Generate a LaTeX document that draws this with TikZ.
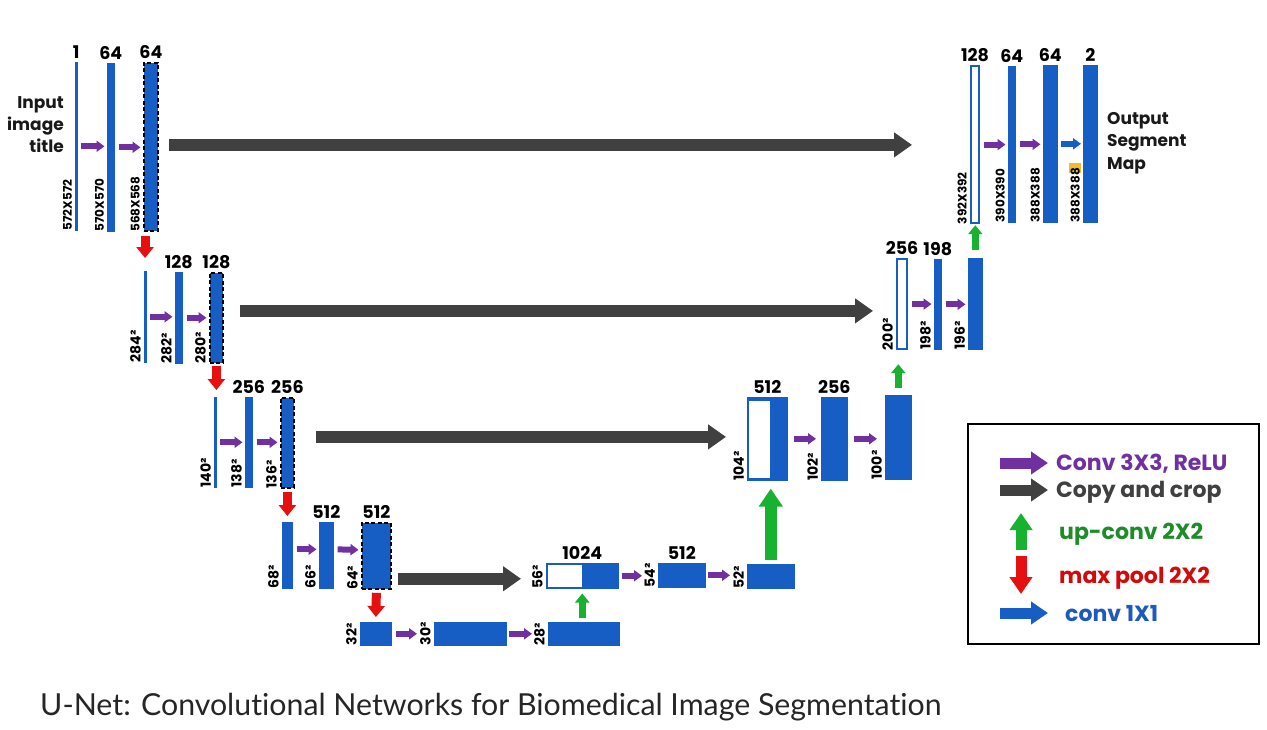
\documentclass[tikz,border=0pt]{standalone}
\usepackage{fontspec}
\setmainfont{Poppins}
\newfontfamily\capfont{Lato}[Ligatures=CommonOff]
\usetikzlibrary{arrows.meta}

\definecolor{mapblue}{RGB}{22,94,196}
\definecolor{convpurple}{RGB}{112,48,160}
\definecolor{copygray}{RGB}{64,64,64}
\definecolor{upgreen}{RGB}{24,178,48}
\definecolor{poolred}{RGB}{230,16,16}
\definecolor{keygreen}{RGB}{30,140,40}
\definecolor{keyred}{RGB}{210,10,10}
\definecolor{keyblue}{RGB}{30,90,190}
\definecolor{hlyellow}{RGB}{240,190,40}

\begin{document}
\begin{tikzpicture}[x=1pt, y=-1pt, label distance=3pt,
    fmap/.style={draw=mapblue, fill=mapblue, line width=0.6pt, inner sep=0pt, anchor=north west},
    cropmap/.style={fmap, draw=black, dash pattern=on 4pt off 2.5pt, line width=1.8pt},
    catmap/.style={fmap, fill=white, line width=2.2pt},
    num/.style={font=\bfseries\fontsize{17.5}{17.5}\selectfont, inner sep=0pt},
    dimx/.style={rotate=90, anchor=south west, inner sep=0pt, font=\bfseries\fontsize{12}{12}\selectfont},
    dimsq/.style={dimx, font=\bfseries\fontsize{14}{14}\selectfont},
    conv/.style={draw=convpurple, line width=6pt, -{Triangle[length=8pt,width=11pt]}, shorten <=4pt, shorten >=2.5pt},
    onebyone/.style={conv, draw=mapblue},
    copy/.style={draw=copygray, line width=12pt, -{Triangle[length=18pt,width=24pt]}},
    pool/.style={draw=poolred, line width=9pt, -{Triangle[length=11pt,width=17pt]}},
    upconv/.style={draw=upgreen, line width=7pt, -{Triangle[length=9pt,width=14pt]}},
    upbig/.style={draw=upgreen, line width=12pt, -{Triangle[length=18pt,width=23pt]}},
    keyarrow/.style={line width=11pt, -{Triangle[length=17pt,width=22pt]}},
    key/.style={anchor=base west, inner sep=0pt, font=\bfseries\fontsize{22}{22}\selectfont},
  ]
  \fill[white] (0,0) rectangle (1267,729);
  \useasboundingbox (0,0) rectangle (1267,729);

  % contracting path
  \node[fmap, minimum width=1.5pt, minimum height=168pt, label={[num]above:1}] (a1) at (75,62) {};
  \node[fmap, minimum width=7pt, minimum height=168pt, label={[num]above:64}] (a2) at (107,63) {};
  \node[cropmap, minimum width=14pt, minimum height=168pt, label={[num]above:64}] (a3) at (143,62) {};
  \node[fmap, minimum width=1.5pt, minimum height=91pt] (b1) at (144,271) {};
  \node[fmap, minimum width=7pt, minimum height=91pt, label={[num]above:128}] (b2) at (175,272) {};
  \node[cropmap, minimum width=13pt, minimum height=90pt, label={[num]above:128}] (b3) at (209,272) {};
  \node[fmap, minimum width=1.5pt, minimum height=90pt] (c1) at (214,397) {};
  \node[fmap, minimum width=7pt, minimum height=90pt, label={[num]above:256}] (c2) at (245,397) {};
  \node[cropmap, minimum width=13pt, minimum height=90pt, label={[num]above:256}] (c3) at (280,397) {};
  \node[fmap, minimum width=10pt, minimum height=66pt] (d1) at (282,522) {};
  \node[fmap, minimum width=14pt, minimum height=66pt, label={[num]above:512}] (d2) at (319,522) {};
  \node[cropmap, minimum width=29pt, minimum height=66pt, label={[num]above:512}] (d3) at (361,522) {};
  % bottom
  \node[fmap, minimum width=31pt, minimum height=23pt] (e1) at (360,622) {};
  \node[fmap, minimum width=72pt, minimum height=23pt] (e2) at (434,622) {};
  \node[fmap, minimum width=71pt, minimum height=23pt] (e3) at (548,622) {};
  % expansive path
  \node[catmap, line width=1.5pt, minimum width=71pt, minimum height=24pt, label={[num]above:1024}] (f1) at (546,563) {};
  \fill[mapblue] (f1.north) rectangle (f1.south east);
  \node[fmap, minimum width=47pt, minimum height=24pt, label={[num]above:512}] (f2) at (658,563) {};
  \node[fmap, minimum width=47pt, minimum height=24pt] (f3) at (747,564) {};
  \node[fmap, minimum width=40pt, minimum height=83pt, label={[num]above:512}] (g1) at (747,397) {};
  \fill[white] ([shift={(2,4)}]g1.north west) rectangle ([shift={(-18,-3)}]g1.south east);
  \node[fmap, minimum width=26pt, minimum height=83pt, label={[num]above:256}] (g2) at (821,397) {};
  \node[fmap, minimum width=26pt, minimum height=84pt] (g3) at (885,395) {};
  \node[catmap, minimum width=10pt, minimum height=90pt, label={[num]above:256}] (h1) at (896,258) {};
  \node[fmap, minimum width=7pt, minimum height=90pt, label={[num]above:198}] (h2) at (934,259) {};
  \node[fmap, minimum width=14pt, minimum height=91pt] (h3) at (968,258) {};
  \node[catmap, minimum width=8pt, minimum height=157pt, label={[num]above:128}] (k1) at (970,65) {};
  \node[fmap, minimum width=7pt, minimum height=156pt, label={[num]above:64}] (k2) at (1008,66) {};
  \node[fmap, minimum width=14pt, minimum height=157pt, label={[num]above:64}] (k3) at (1043,65) {};
  \node[fmap, minimum width=14pt, minimum height=157pt, label={[num]above:2}] (k4) at (1083,65) {};

  % sizes
  \fill[hlyellow] (1069,163) rectangle (1081,173);
  \foreach \m/\t in {a1/572X572, a2/570X570, a3/568X568, k1/392X392, k2/390X390, k3/388X388, k4/388X388}
    \node[dimx] at ([xshift=-3pt]\m.south west) {\t};
  \foreach \m/\t in {b1/284, b2/282, b3/280, c1/140, c2/138, c3/136, d1/68, d2/66, d3/64,
                     e1/32, e2/30, e3/28, f1/56, f2/54, f3/52, g1/104, g2/102, g3/100,
                     h1/200, h2/198, h3/196}
    \node[dimsq] at ([xshift=-3pt]\m.south west) {\t²};

  % conv 3x3
  \foreach \s/\t in {a1/a2, a2/a3, b1/b2, b2/b3, c1/c2, c2/c3, h1/h2, h2/h3, k1/k2, k2/k3}
    \draw[conv] (\s.east) -- (\s.east -| \t.west);
  \draw[conv] ([yshift=6pt]d1.east) -- ([yshift=6pt]d2.west);
  \draw[conv] ([yshift=6pt]d2.east) -- ([yshift=6pt]d3.west);
  \draw[conv, shorten >=17pt] (e1) -- (e2);
  \draw[conv, shorten <=2pt, shorten >=16pt] (e2) -- (e3);
  \draw[conv, shorten <=3pt, shorten >=16pt] (f1.east) -- (f1.east -| f2.west);
  \draw[conv, shorten <=2pt, shorten >=17pt] (f2.east) -- (f2.east -| f3.west);
  \draw[conv, shorten <=6pt, shorten >=5pt] (g1.east) -- (g1.east -| g2.west);
  \draw[conv, shorten <=6pt, shorten >=8pt] (g2.east) -- (g2.east -| g3.west);
  % conv 1x1
  \draw[onebyone, shorten <=3pt, shorten >=2pt] (k3.east) -- (k3.east -| k4.west);

  % copy and crop
  \draw[copy, shorten <=10pt, shorten >=58pt] ([yshift=2pt]a3.east) -- ([yshift=2pt]a3.east -| k1.west);
  \draw[copy, shorten <=16pt, shorten >=23pt] ([yshift=7pt]b3.east) -- ([yshift=7pt]b3.east -| h1.west);
  \draw[copy, shorten <=21pt, shorten >=21pt] ([yshift=6pt]c3.east) -- ([yshift=6pt]c3.east -| g1.west);
  \draw[copy, shorten <=6pt, shorten >=25pt] ([yshift=-3pt]d3.east |- f1.west) -- ([yshift=-3pt]f1.west);

  % max pool
  \draw[pool, shorten <=4pt, shorten >=13pt] (b1.north |- a3.south) -- (b1.north);
  \draw[pool, shorten <=2pt, shorten >=7pt] (b3.south) -- (b3.south |- c1.north);
  \draw[pool, shorten <=3pt, shorten >=6pt] (c3.south) -- (c3.south |- d1.north);
  \draw[pool, shorten <=3pt, shorten >=5pt] (d3.south) -- (e1.north);

  % up-conv
  \draw[upconv, shorten <=4pt, shorten >=5pt] (f1.south |- e3.north) -- (f1.south);
  \draw[upbig, shorten <=4pt, shorten >=8pt] (f3.north) -- (f3.north |- g1.south);
  \draw[upconv, shorten <=7pt, shorten >=14pt] (g3.north) -- (g3.north |- h1.south);
  \draw[upconv, shorten <=8pt, shorten >=1pt] (h3.north) -- (h3.north |- k1.south);

  % texts
  \node[anchor=north east, align=right, inner sep=0pt, text=black!90,
        font=\bfseries\fontsize{17}{22}\selectfont] (input) at (64,96) {Input\\image\\title};
  \node[anchor=north west, align=left, inner sep=0pt, text=black!90,
        font=\bfseries\fontsize{17}{22.5}\selectfont] (output) at (1107,112) {Output\\Segment\\Map};

  % legend
  \node[draw, line width=2pt, inner sep=0pt, minimum width=291pt, minimum height=220pt, anchor=north west] (legend) at (967,423) {};
  \draw[keyarrow, convpurple] (1000,463) -- (1048,463);
  \draw[keyarrow, copygray] (1000,490) -- (1048,490);
  \draw[keyarrow, upgreen] (1021,550) -- (1021,513);
  \draw[keyarrow, poolred] (1021,556) -- (1021,594);
  \draw[keyarrow, mapblue] (1000,613) -- (1048,613);
  \node[key, text=convpurple] (kconv) at (1056,470) {Conv 3X3, ReLU};
  \node[key, text=copygray] (kcopy) at (1056,497) {Copy and crop};
  \node[key, text=keygreen] (kup) at (1059,539) {up-conv 2X2};
  \node[key, text=keyred] (kpool) at (1059,583) {max pool 2X2};
  \node[key, text=keyblue] (kone) at (1065,621) {conv 1X1};

  % caption
  \node[anchor=base west, inner sep=0pt, text=black!85, font=\capfont\fontsize{30.3}{30.3}\selectfont] (caption) at (40,715)
    {U-Net: Convolutional Networks for Biomedical Image Segmentation};
\end{tikzpicture}
\end{document}
